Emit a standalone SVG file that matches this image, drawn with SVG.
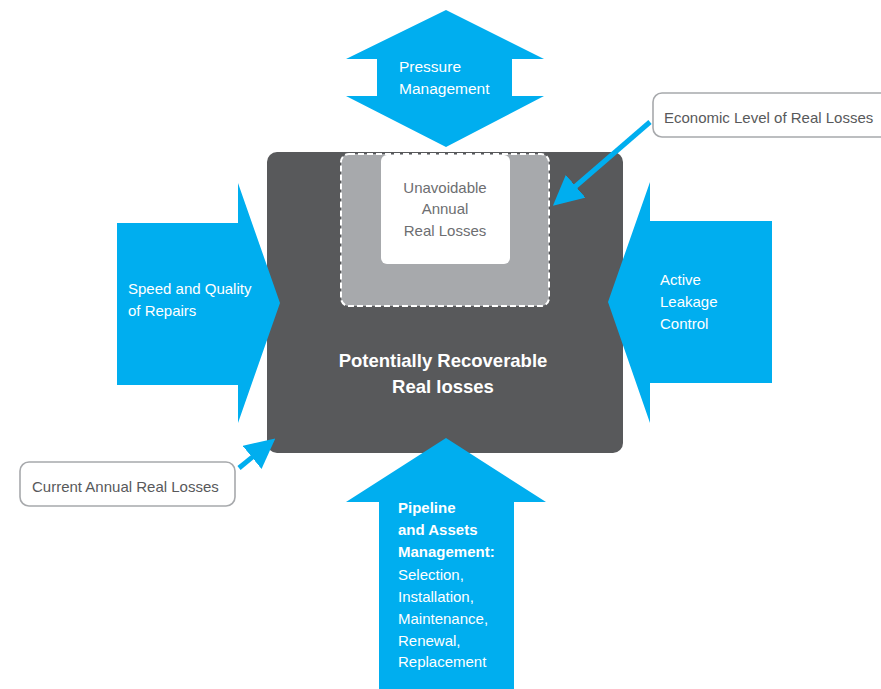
<svg xmlns="http://www.w3.org/2000/svg" width="881" height="689" viewBox="0 0 881 689">
<style>
.blue{fill:#00aeef}
.wt{fill:#ffffff;font-family:"Liberation Sans",Arial,sans-serif;font-size:15px}
.gt{fill:#6d6e71;font-family:"Liberation Sans",Arial,sans-serif;font-size:15px}
.lbl{fill:#ffffff;stroke:#a7a9ac;stroke-width:1.6}
.conn{stroke:#00aeef;stroke-width:5;fill:none}
</style>
<defs>
<marker id="ah" viewBox="0 0 10 10" refX="6" refY="5" markerWidth="6" markerHeight="6" orient="auto" markerUnits="strokeWidth">
<path d="M0,0 L10,5 L0,10 Z" fill="#00aeef"/>
</marker>
</defs>
<rect width="881" height="689" fill="#ffffff"/>

<g id="recoverable">
<rect x="267" y="152" width="356" height="301" rx="10" fill="#58595b"/>
<text x="443" y="367" text-anchor="middle" class="wt" style="font-size:18.5px;font-weight:bold">Potentially Recoverable</text>
<text x="443" y="393" text-anchor="middle" class="wt" style="font-size:18.5px;font-weight:bold">Real losses</text>
</g>

<g id="economic-level">
<rect x="341" y="154" width="208" height="152" rx="8" fill="#a7a9ac" stroke="#ffffff" stroke-width="2" stroke-dasharray="6,3"/>
</g>

<g id="unavoidable">
<rect x="381" y="155" width="129" height="109" rx="6" fill="#ffffff"/>
<text x="445" y="193" text-anchor="middle" class="gt">Unavoidable</text>
<text x="445" y="214" text-anchor="middle" class="gt">Annual</text>
<text x="445" y="236" text-anchor="middle" class="gt">Real Losses</text>
</g>

<g id="pressure">
<path class="blue" d="M446,10 L544,59 L512,59 L512,96 L544,96 L446,147 L346,96 L377,96 L377,59 L346,59 Z"/>
<text x="399" y="72" class="wt" style="font-size:15.5px">Pressure</text>
<text x="399" y="94" class="wt" style="font-size:15.5px">Management</text>
</g>

<g id="speed-quality">
<path class="blue" d="M117,223 L238,223 L238,183 L280,303 L238,423 L238,385 L117,385 Z"/>
<text x="128" y="294" class="wt">Speed and Quality</text>
<text x="128" y="316" class="wt">of Repairs</text>
</g>

<g id="active-leakage">
<path class="blue" d="M772,221 L650,221 L650,182 L608,302 L650,423 L650,383 L772,383 Z"/>
<text x="660" y="285" class="wt">Active</text>
<text x="660" y="307" class="wt">Leakage</text>
<text x="660" y="329" class="wt">Control</text>
</g>

<g id="pipeline">
<path class="blue" d="M446,438 L546,502 L514,502 L514,689 L379,689 L379,502 L346,502 Z"/>
<text x="398" y="513" class="wt" style="font-weight:bold">Pipeline</text>
<text x="398" y="535" class="wt" style="font-weight:bold">and Assets</text>
<text x="398" y="557" class="wt" style="font-weight:bold">Management:</text>
<text x="398" y="580" class="wt">Selection,</text>
<text x="398" y="602" class="wt">Installation,</text>
<text x="398" y="624" class="wt">Maintenance,</text>
<text x="398" y="646" class="wt">Renewal,</text>
<text x="398" y="667" class="wt">Replacement</text>
</g>

<g id="label-economic">
<rect x="653" y="93" width="236" height="44" rx="9" class="lbl"/>
<text x="664" y="123" class="gt" style="fill:#58595b">Economic Level of Real Losses</text>
</g>

<g id="label-current">
<rect x="20" y="462" width="215" height="44" rx="9" class="lbl"/>
<text x="32" y="492" class="gt" style="fill:#58595b">Current Annual Real Losses</text>
</g>

<g id="connectors">
<line class="conn" x1="650" y1="122" x2="562" y2="198" marker-end="url(#ah)"/>
<line class="conn" x1="239" y1="468" x2="266" y2="446" marker-end="url(#ah)"/>
</g>
</svg>
